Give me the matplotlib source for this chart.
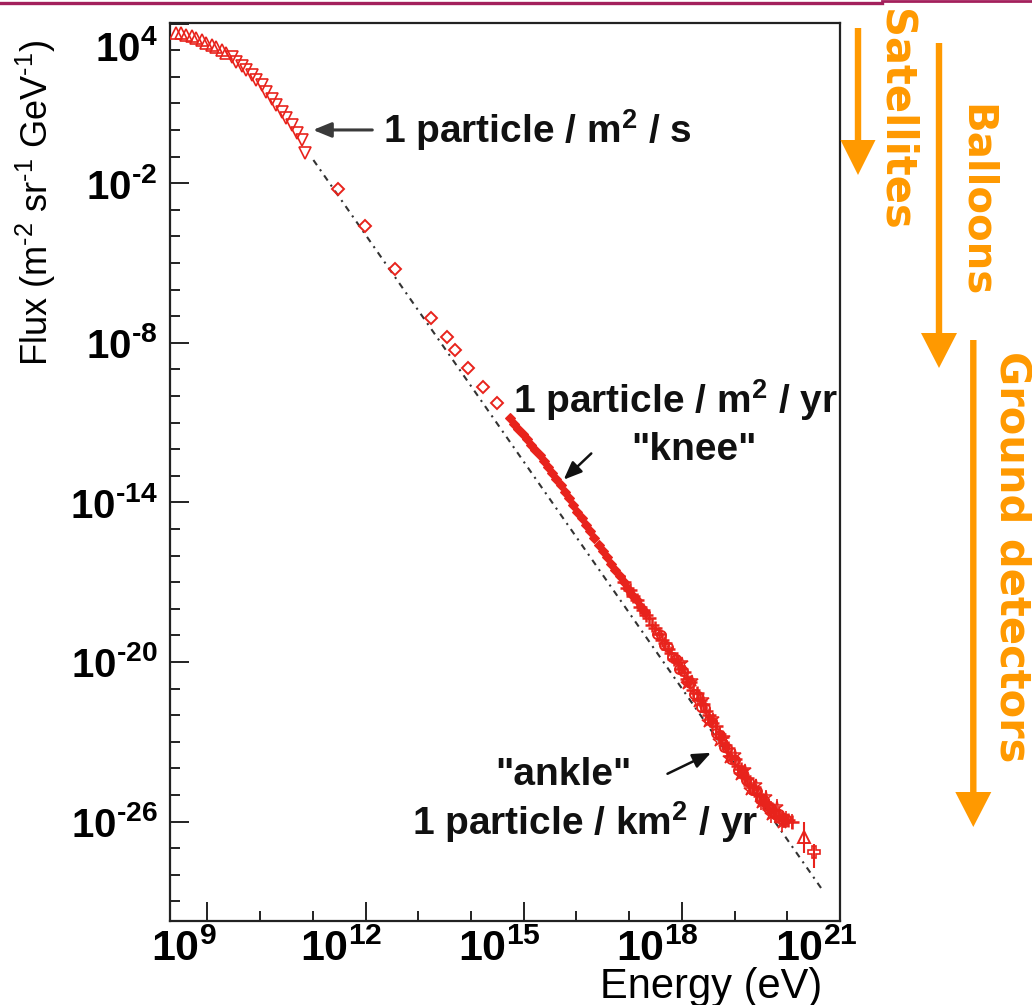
import numpy as np
import matplotlib
matplotlib.use("Agg")
import matplotlib.pyplot as plt
from matplotlib.patches import Polygon
from matplotlib.lines import Line2D
from matplotlib.ticker import FixedLocator, FuncFormatter, NullFormatter
import matplotlib.transforms as mtransforms

plt.rcParams.update({
    "font.family": ["Liberation Sans", "DejaVu Sans"],
    "mathtext.fontset": "custom",
    "mathtext.rm": "Liberation Sans",
    "mathtext.bf": "Liberation Sans:bold",
    "mathtext.it": "Liberation Sans:italic",
    "mathtext.sf": "Liberation Sans",
})

# ---------------- data (log10 of energy in eV, log10 of flux) ----------------
# satellite measurements, low energies
tri_up_logE = [8.40, 8.49, 8.60, 8.70, 8.79, 8.89, 8.98, 9.08, 9.17, 9.27, 9.36]
tri_up_logF = [3.66, 3.63, 3.57, 3.53, 3.45, 3.38, 3.28, 3.20, 3.11, 3.01, 2.88]
tri_dn_logE = [9.46, 9.55, 9.65, 9.74, 9.84, 9.93, 10.03, 10.12, 10.22, 10.31,
               10.41, 10.50, 10.60, 10.69, 10.79, 10.86]
tri_dn_logF = [2.73, 2.57, 2.41, 2.26, 2.07, 1.88, 1.69, 1.44, 1.15, 0.94,
               0.69, 0.44, 0.19, -0.13, -0.38, -0.88]

# balloon measurements
dia_logE = [11.48, 11.98, 12.56, 13.24, 13.54, 13.70, 13.95, 14.23, 14.49]
dia_logF = [-2.23, -3.60, -5.24, -7.06, -7.79, -8.27, -8.94, -9.65, -10.27]

# air-shower array around the knee
knee_logE = [14.74, 14.82, 14.90, 14.98, 15.06, 15.14, 15.22, 15.30, 15.38, 15.46,
             15.54, 15.62, 15.70, 15.78, 15.86, 15.94, 16.02, 16.10, 16.18, 16.26,
             16.34, 16.42, 16.50, 16.58, 16.66, 16.74, 16.82, 16.90, 16.98, 17.06,
             17.14, 17.22, 17.30]
knee_logF = [-10.84, -11.04, -11.24, -11.43, -11.63, -11.83, -12.03, -12.23, -12.44, -12.66,
             -12.88, -13.12, -13.36, -13.61, -13.85, -14.10, -14.35, -14.60, -14.84, -15.09,
             -15.34, -15.59, -15.83, -16.07, -16.31, -16.55, -16.78, -17.01, -17.25, -17.47,
             -17.69, -17.92, -18.14]

# ground arrays up to the ankle, first set
gA_logE = [16.90, 16.96, 17.02, 17.08, 17.14, 17.20, 17.26, 17.32, 17.38, 17.44,
           17.50, 17.56, 17.62, 17.68, 17.74, 17.80, 17.86, 17.92, 17.98, 18.04,
           18.10, 18.16, 18.22, 18.28, 18.34, 18.40, 18.46, 18.52, 18.58, 18.64,
           18.70, 18.76, 18.82, 18.88, 18.94, 19.00, 19.06, 19.12, 19.18, 19.24,
           19.30, 19.36, 19.42, 19.48, 19.54, 19.60, 19.66, 19.72, 19.78, 19.84,
           19.90, 19.96, 20.02, 20.08]
gA_logF = [-17.01, -17.22, -17.31, -17.54, -17.67, -17.92, -18.03, -18.24, -18.35, -18.62,
           -18.74, -18.95, -19.16, -19.27, -19.52, -19.65, -19.90, -20.01, -20.26, -20.39,
           -20.64, -20.77, -21.04, -21.17, -21.44, -21.57, -21.86, -21.99, -22.28, -22.41,
           -22.70, -22.84, -23.13, -23.24, -23.53, -23.64, -23.91, -24.02, -24.27, -24.38,
           -24.63, -24.72, -24.95, -25.04, -25.25, -25.32, -25.53, -25.58, -25.78, -25.81,
           -25.88, -25.93, -25.96, -26.01]
gA_err = [0.02, 0.02, 0.02, 0.02, 0.02, 0.02, 0.02, 0.02, 0.02, 0.02,
          0.02, 0.02, 0.02, 0.02, 0.03, 0.03, 0.03, 0.03, 0.03, 0.03,
          0.04, 0.04, 0.04, 0.04, 0.05, 0.05, 0.05, 0.06, 0.06, 0.07,
          0.07, 0.08, 0.08, 0.09, 0.09, 0.10, 0.10, 0.11, 0.11, 0.12,
          0.12, 0.13, 0.13, 0.14, 0.15, 0.16, 0.17, 0.18, 0.19, 0.20,
          0.22, 0.24, 0.26, 0.28]

# ground arrays up to the ankle, second set
gB_logE = [17.53, 17.60, 17.67, 17.74, 17.81, 17.88, 17.95, 18.02, 18.09, 18.16,
           18.23, 18.30, 18.37, 18.44, 18.51, 18.58, 18.65, 18.72, 18.79, 18.86,
           18.93, 19.00, 19.07, 19.14, 19.21, 19.28, 19.35, 19.42, 19.49, 19.56,
           19.63, 19.70, 19.77, 19.84, 19.91, 19.98]
gB_logF = [-18.96, -19.00, -19.38, -19.42, -19.82, -19.88, -20.27, -20.33, -20.73, -20.79,
           -21.21, -21.27, -21.69, -21.75, -22.19, -22.24, -22.68, -22.74, -23.18, -23.24,
           -23.64, -23.70, -24.08, -24.14, -24.45, -24.51, -24.83, -24.87, -25.17, -25.19,
           -25.49, -25.49, -25.73, -25.73, -25.96, -25.92]
gB_err = [0.03, 0.03, 0.03, 0.03, 0.04, 0.04, 0.04, 0.05, 0.05, 0.06,
          0.06, 0.07, 0.08, 0.09, 0.10, 0.12, 0.16, 0.35, 0.12, 0.30,
          0.12, 0.14, 0.14, 0.15, 0.16, 0.17, 0.18, 0.20, 0.22, 0.24,
          0.26, 0.28, 0.32, 0.30, 0.28, 0.30]

# ground arrays up to the ankle, third set
gC_logE = [18.0, 18.1, 18.2, 18.3, 18.4, 18.5, 18.6, 18.7, 18.8, 18.9,
           19.0, 19.1, 19.2, 19.3, 19.4, 19.5, 19.6, 19.7, 19.8, 19.9]
gC_logF = [-20.05, -20.82, -20.71, -21.51, -21.42, -22.24, -22.15, -22.97, -22.86, -23.63,
           -23.49, -24.24, -24.08, -24.81, -24.62, -25.32, -25.09, -25.75, -25.46, -26.05]
gC_err = [0.05, 0.05, 0.06, 0.06, 0.07, 0.08, 0.09, 0.10, 0.12, 0.14,
          0.15, 0.16, 0.18, 0.20, 0.22, 0.24, 0.26, 0.30, 0.32, 0.35]

# highest-energy events: value, upper and lower end of the error bar
top_logE = [20.32, 20.50]
top_logF = [-26.57, -27.13]
top_hi = [-26.00, -26.85]
top_lo = [-27.19, -27.75]

# E^-2.8 reference power law
ref_logE = [11.01, 20.69]
ref_logF = [-1.13, -28.64]

y_major_exp = [4, -2, -8, -14, -20, -26]
x_major_exp = [9, 12, 15, 18, 21]

RED = "#e8231c"
ORANGE = "#ff9900"
HYPHEN = "\u2010"

W, H = 1032, 1005
fig = plt.figure(figsize=(W / 100, H / 100), dpi=100)
fig.patch.set_facecolor("white")
ax = fig.add_axes([170 / W, 1 - 921 / H, 670 / W, 898.5 / H])


def p10(v):
    return 10.0 ** np.asarray(v, dtype=float)


ax.plot(p10(ref_logE), p10(ref_logF), color="#333333", lw=1.5,
        ls=(0, (3.0, 2.5, 1.0, 2.5)), zorder=1)

ax.plot(p10(tri_up_logE), p10(tri_up_logF), ls="none", marker="^", ms=8,
        mfc="none", mec=RED, mew=1.2, zorder=3)
ax.plot(p10(tri_dn_logE), p10(tri_dn_logF), ls="none", marker="v", ms=8,
        mfc="none", mec=RED, mew=1.2, zorder=3)
ax.plot(p10(dia_logE), p10(dia_logF), ls="none", marker="D", ms=6,
        mfc="none", mec=RED, mew=1.4, zorder=3)
ax.plot(p10(knee_logE), p10(knee_logF), ls="none", marker="D", ms=5.5,
        mfc=RED, mec=RED, mew=0.8, zorder=3)


def err_series(logE, logF, err, marker, ms, mew):
    F = p10(logF)
    e = np.asarray(err)
    yerr = [F - F * 10 ** (-e), F * 10 ** e - F]
    ax.errorbar(p10(logE), F, yerr=yerr, fmt=marker, ms=ms, mfc="none",
                mec=RED, mew=mew, ecolor=RED, elinewidth=1.2, capsize=0, zorder=3)


err_series(gA_logE, gA_logF, gA_err, "+", 10, 1.8)
err_series(gB_logE, gB_logF, gB_err, "o", 6.5, 1.4)
err_series(gC_logE, gC_logF, gC_err, "*", 9, 1.1)

Ft = p10(top_logF)
ax.errorbar(p10(top_logE[:1]), Ft[:1],
            yerr=[Ft[:1] - p10(top_lo[:1]), p10(top_hi[:1]) - Ft[:1]],
            fmt="^", ms=9, mfc="none", mec=RED, mew=1.4, ecolor=RED,
            elinewidth=1.5, capsize=0, zorder=3)
ax.errorbar(p10(top_logE[1:]), Ft[1:],
            yerr=[Ft[1:] - p10(top_lo[1:]), p10(top_hi[1:]) - Ft[1:]],
            fmt="P", ms=8, mfc="none", mec=RED, mew=1.2, ecolor=RED,
            elinewidth=1.5, capsize=0, zorder=3)

# ---------------- axes ----------------
ax.set_xscale("log")
ax.set_yscale("log")
ax.set_xlim(10 ** 8.29, 10 ** 21.0)
ax.set_ylim(10 ** -29.74, 10 ** 4.04)

ax.xaxis.set_major_locator(FixedLocator(p10(x_major_exp)))
ax.xaxis.set_minor_locator(FixedLocator(p10(range(9, 22))))
ax.yaxis.set_major_locator(FixedLocator(p10(y_major_exp)))
ax.yaxis.set_minor_locator(FixedLocator(p10(range(-29, 5))))


def pow_label(v, pos):
    n = int(round(np.log10(v)))
    s = str(abs(n)) if n >= 0 else HYPHEN + str(abs(n))
    return r"$\mathbf{10^{%s}}$" % s


fmt = FuncFormatter(pow_label)
ax.xaxis.set_major_formatter(fmt)
ax.yaxis.set_major_formatter(fmt)
ax.xaxis.set_minor_formatter(NullFormatter())
ax.yaxis.set_minor_formatter(NullFormatter())

ax.tick_params(which="both", direction="in", top=False, right=False,
               width=1.4, color="#222222")
ax.tick_params(which="major", length=14)
ax.tick_params(which="minor", length=7)
ax.tick_params(axis="y", pad=9, labelsize=29)
ax.tick_params(axis="x", pad=6, labelsize=31)
for s in ax.spines.values():
    s.set_linewidth(1.6)
    s.set_color("#222222")

# ROOT-like label placement: x labels sit left of their tick, top y label below the frame edge
for lab in ax.get_xticklabels():
    lab.set_transform(lab.get_transform() +
                      mtransforms.ScaledTranslation(-24 / 100, 0, fig.dpi_scale_trans))
for lab in ax.get_yticklabels():
    if lab.get_text() == pow_label(1e4, 0):
        lab.set_transform(lab.get_transform() +
                          mtransforms.ScaledTranslation(0, -22 / 100, fig.dpi_scale_trans))

fig.text(36 / W, 1 - 40 / H,
         "Flux (m$^{%s2}$ sr$^{%s1}$ GeV$^{%s1}$)" % (HYPHEN, HYPHEN, HYPHEN),
         rotation=90, ha="center", va="top", fontsize=26)
fig.text(822 / W, 1 - 987 / H, "Energy (eV)", ha="right", va="center", fontsize=30)

# ---------------- annotations ----------------
ann_kw = dict(fontsize=28, fontweight="bold", color="#111111")
head = "-|>,head_length=1.1,head_width=0.45"
ax.text(10 ** 12.33, 10 ** 0.0, r"1 particle / m$^{\mathbf{2}}$ / s",
        ha="left", va="center", **ann_kw)
ax.annotate("", xy=(10 ** 10.95, 10 ** 0.0), xytext=(10 ** 12.18, 10 ** 0.0),
            arrowprops=dict(arrowstyle=head, color="#3a3a3a", lw=2.2))

ax.text(10 ** 14.80, 10 ** -10.15, r"1 particle / m$^{\mathbf{2}}$ / yr",
        ha="left", va="center", **ann_kw)
ax.text(10 ** 18.23, 10 ** -12.03, '"knee"', ha="center", va="center", **ann_kw)
ax.annotate("", xy=(10 ** 15.72, 10 ** -13.22), xytext=(10 ** 16.32, 10 ** -12.09),
            arrowprops=dict(arrowstyle=head, color="#111111", lw=1.8))

ax.text(10 ** 15.76, 10 ** -24.25, '"ankle"', ha="center", va="center", **ann_kw)
ax.text(10 ** 16.16, 10 ** -26.02, r"1 particle / km$^{\mathbf{2}}$ / yr",
        ha="center", va="center", **ann_kw)
ax.annotate("", xy=(10 ** 18.60, 10 ** -23.37), xytext=(10 ** 17.68, 10 ** -24.25),
            arrowprops=dict(arrowstyle=head, color="#111111", lw=1.8))

# ---------------- experiment ranges on the right ----------------
def px(x, y):
    return (x / W, 1 - y / H)


def down_arrow(x, y0, yh, y1, half_shaft=3.2, half_head=18):
    pts = [px(x - half_shaft, y0), px(x + half_shaft, y0), px(x + half_shaft, yh),
           px(x + half_head, yh), px(x, y1), px(x - half_head, yh),
           px(x - half_shaft, yh)]
    fig.add_artist(Polygon(pts, closed=True, transform=fig.transFigure,
                           facecolor=ORANGE, edgecolor="none"))


down_arrow(858, 28, 140, 175, half_head=17.5)
down_arrow(939, 43, 333, 368)
down_arrow(973.3, 340, 792, 827)

lab_kw = dict(color=ORANGE, fontweight="bold", rotation=-90,
              ha="center", va="center", family="DejaVu Sans")
fig.text(896 / W, 1 - 120 / H, "Satellites", fontsize=30, **lab_kw)
fig.text(976 / W, 1 - 201 / H, "Balloons", fontsize=29, **lab_kw)
fig.text(1012 / W, 1 - 557 / H, "Ground detectors", fontsize=30, **lab_kw)

# slide header rule
fig.add_artist(Line2D([0, 882 / W], [1 - 3 / H, 1 - 3 / H], transform=fig.transFigure,
                      color="#a3205c", lw=2.4))
fig.add_artist(Line2D([882 / W, 1], [1 - 1 / H, 1 - 1 / H], transform=fig.transFigure,
                      color="#a3205c", lw=2.0))

fig.savefig("out.png", dpi=100, facecolor="white")
